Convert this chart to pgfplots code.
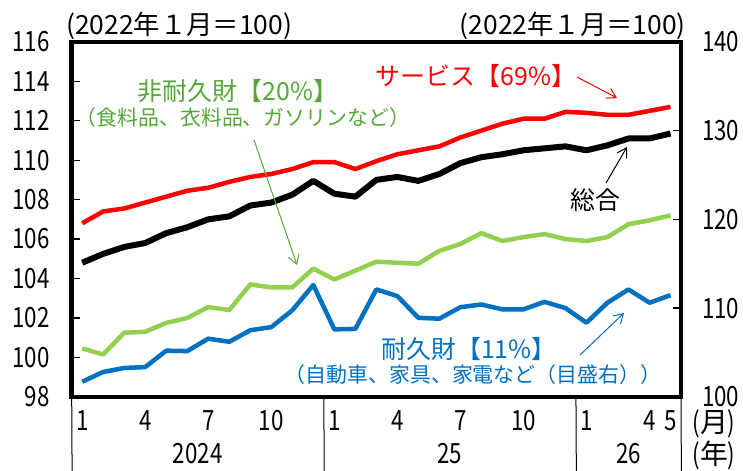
\documentclass[border=0pt]{standalone}
\usepackage{pgfplots}
\pgfplotsset{compat=1.18}
\usepackage{fontspec}
\setmainfont{Noto Sans CJK JP}
\usetikzlibrary{arrows.meta}
\definecolor{cRed}{RGB}{255,0,0}
\definecolor{cGreen}{RGB}{146,208,80}
\definecolor{cGreenT}{RGB}{84,168,56}
\definecolor{cBlue}{RGB}{0,112,192}
\newcommand\nf[1]{\scalebox{0.8}[1]{#1}}
\newcommand\tf{\fontsize{28}{30}\selectfont}
\newcommand\hf{\fontsize{25}{27}\selectfont}
\newcommand\hdf{\fontsize{26.5}{28}\selectfont}
\newcommand\smf{\fontsize{21}{23}\selectfont}

\pgfplotstableread{
x total service nondur dur
0 104.8 106.8 100.45 101.7
1 105.25 107.4 100.15 102.8
2 105.6 107.55 101.25 103.25
3 105.8 107.85 101.3 103.35
4 106.3 108.15 101.75 105.2
5 106.6 108.45 102.0 105.15
6 107.0 108.6 102.55 106.55
7 107.15 108.9 102.4 106.2
8 107.7 109.15 103.7 107.5
9 107.85 109.3 103.55 107.85
10 108.25 109.55 103.55 109.75
11 108.95 109.9 104.5 112.6
12 108.3 109.9 103.95 107.6
13 108.15 109.55 104.4 107.65
14 109.0 109.95 104.85 112.1
15 109.15 110.3 104.8 111.35
16 108.95 110.5 104.75 108.9
17 109.3 110.7 105.4 108.8
18 109.85 111.15 105.75 110.1
19 110.15 111.5 106.3 110.4
20 110.3 111.85 105.9 109.85
21 110.5 112.1 106.1 109.85
22 110.6 112.1 106.25 110.7
23 110.7 112.45 106.0 110.0
24 110.5 112.4 105.9 108.35
25 110.75 112.3 106.1 110.6
26 111.1 112.3 106.75 112.1
27 111.1 112.5 106.95 110.6
28 111.35 112.7 107.2 111.45
}\data

\begin{document}
\begin{tikzpicture}
\useasboundingbox (0,0) rectangle (743bp,-471bp);
\begin{axis}[
  at={(71.7bp,-396.8bp)}, anchor=south west,
  scale only axis, width=609.3bp, height=355bp,
  xmin=-0.5, xmax=28.5, ymin=98, ymax=116,
  axis line style={line width=4.5bp},
  ytick={98,100,...,116},
  yticklabels={\nf{98},\nf{100},\nf{102},\nf{104},\nf{106},\nf{108},\nf{110},\nf{112},\nf{114},\nf{116}},
  ytick pos=left, xtick pos=bottom,
  tick align=inside,
  major tick length=8bp,
  ytick style={line width=1.3bp, black},
  xtick={0,3,6,9,12,15,18,21,24,27,28},
  xticklabels={\nf{1},\nf{4},\nf{7},\nf{10},\nf{1},\nf{4},\nf{7},\nf{10},\nf{1},\nf{4},\nf{5}},
  xtick style={draw=none},
  xticklabel style={font=\tf, inner sep=0pt, anchor=center, yshift=-24bp},
  yticklabel style={font=\tf, inner sep=0pt, anchor=east, xshift=-22bp},
  clip=false,
]
\addplot[cRed, line width=4.5bp, line join=round] table[x=x,y=service] {\data};
\addplot[black, line width=6bp, line join=round] table[x=x,y=total] {\data};
\addplot[cGreen, line width=4.5bp, line join=round] table[x=x,y=nondur] {\data};
\foreach \xx in {-0.5,11.5,23.5,28.5}{
  \edef\tmp{\noexpand\draw[line width=1bp] (axis cs:\xx,98) -- ++(0,-75bp);}\tmp
}
\node[font=\tf] at ([yshift=-57bp]axis cs:5.5,98) {\nf{2024}};
\node[font=\tf] at ([yshift=-57bp]axis cs:17.5,98) {\nf{25}};
\node[font=\tf] at ([yshift=-57bp]axis cs:26,98) {\nf{26}};
\end{axis}
\begin{axis}[
  at={(71.7bp,-396.8bp)}, anchor=south west,
  scale only axis, width=609.3bp, height=355bp,
  xmin=-0.5, xmax=28.5, ymin=100, ymax=140,
  axis x line=none, axis y line*=right,
  axis line style={line width=4.5bp},
  ytick={100,110,...,140},
  yticklabels={\nf{100},\nf{110},\nf{120},\nf{130},\nf{140}},
  tick align=inside,
  major tick length=8bp,
  ytick style={line width=1.3bp, black},
  yticklabel style={font=\tf, inner sep=0pt, anchor=west, xshift=21bp},
  clip=false,
]
\addplot[cBlue, line width=4.5bp, line join=round] table[x=x,y=dur] {\data};
\end{axis}
\begin{scope}[x=1bp,y=-1bp]
\node[font=\hdf, anchor=west, inner sep=0pt] at (66,26) {(2022年１月＝100)};
\node[font=\hdf, anchor=east, inner sep=0pt] at (686,26) {(2022年１月＝100)};
\node[font=\tf] at (714,424) {\nf{(}月\nf{)}};
\node[font=\tf] at (714,455) {\nf{(}年\nf{)}};
\node[font=\hf, text=cGreenT, inner sep=0pt] at (238,91) {非耐久財【20\%】};
\node[font=\smf, text=cGreenT, inner sep=0pt] at (243,118) {（食料品、衣料品、ガソリンなど）};
\node[font=\hf, text=cRed, inner sep=0pt] at (476,76) {サービス【69\%】};
\node[font=\hf, text=black, inner sep=0pt] at (595,200) {総合};
\node[font=\hf, text=cBlue, inner sep=0pt] at (469,349) {耐久財【11\%】};
\node[font=\smf, text=cBlue, inner sep=0pt] at (473,375) {（自動車、家具、家電など（目盛右））};
\draw[cGreenT, line width=1bp, -{Straight Barb[length=9bp,width=11bp]}] (254,140) -- (297,265);
\draw[cRed, line width=1bp, -{Straight Barb[length=9bp,width=11bp]}] (577,77) -- (617,98);
\draw[black, line width=1bp, -{Straight Barb[length=9bp,width=11bp]}] (606,183) -- (627,147);
\draw[cBlue, line width=1bp, -{Straight Barb[length=9bp,width=11bp]}] (580,355) -- (624,313);
\end{scope}
\end{tikzpicture}
\end{document}
